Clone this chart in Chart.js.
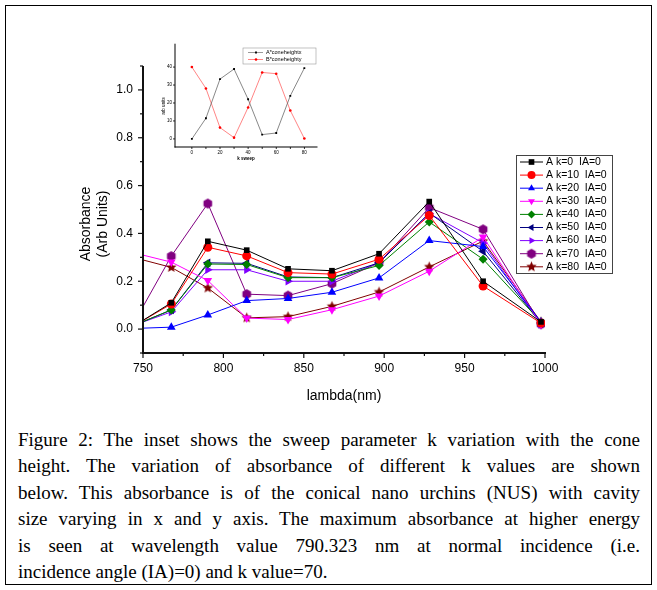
<!DOCTYPE html>
<html>
<head>
<meta charset="utf-8">
<title>Absorbance vs lambda</title>
<script src="https://cdn.jsdelivr.net/npm/chart.js@4.4.0/dist/chart.umd.min.js"></script>
<style>
  html, body { margin: 0; padding: 0; background: #fff; }
  #page { position: relative; width: 657px; height: 590px; overflow: hidden; }
  #frame { position: absolute; left: 5px; top: 5px; width: 645px; height: 578px; border: 1px solid #000; }
  #mainWrap { position: absolute; left: 0; top: 0; width: 657px; height: 410px; }
  #insetWrap { position: absolute; left: 145px; top: 38px; width: 180px; height: 125px; }
  #caption { position: absolute; left: 18px; top: 427px; width: 622px;
    font-family: "Liberation Serif", "Times New Roman", serif; font-size: 19px; line-height: 26.4px; color: #000; }
  #caption div { text-align: justify; text-align-last: justify; white-space: nowrap; }
  #caption div.last { text-align-last: left; }
</style>
</head>
<body>
<div id="page">
  <div id="frame"></div>
  <div id="mainWrap"><canvas id="main-chart" width="657" height="410"></canvas></div>
  <div id="insetWrap"><canvas id="inset-chart" width="180" height="125"></canvas></div>
  <div id="caption">
    <div>Figure 2: The inset shows the sweep parameter k variation with the cone</div>
    <div>height. The variation of absorbance of different k values are shown</div>
    <div>below. This absorbance is of the conical nano urchins (NUS) with cavity</div>
    <div>size varying in x and y axis. The maximum absorbance at higher energy</div>
    <div>is seen at wavelength value 790.323 nm at normal incidence (i.e.</div>
    <div class="last">incidence angle (IA)=0) and k value=70.</div>
  </div>
</div>
<script>
Chart.defaults.font.family = '"Liberation Sans", Arial, sans-serif';
Chart.defaults.color = '#000';
Chart.defaults.borderColor = '#000';

// wavelengths (nm) of the sweep points
var lambda = [746.0, 767.6, 790.3, 814.5, 840.2, 867.5, 896.8, 928.0, 961.5, 997.5];

// absorbance for each k (IA=0)
var absK0  = [0.020, 0.110, 0.367, 0.330, 0.252, 0.244, 0.315, 0.533, 0.200, 0.030];
var absK10 = [0.020, 0.105, 0.342, 0.306, 0.236, 0.230, 0.292, 0.475, 0.180, 0.025];
var absK20 = [0.003, 0.008, 0.059, 0.119, 0.128, 0.154, 0.214, 0.370, 0.345, 0.030];
var absK30 = [0.316, 0.280, 0.203, 0.046, 0.040, 0.081, 0.138, 0.242, 0.385, 0.020];
var absK40 = [0.020, 0.080, 0.272, 0.270, 0.215, 0.215, 0.266, 0.448, 0.292, 0.030];
var absK50 = [0.020, 0.080, 0.277, 0.275, 0.218, 0.215, 0.277, 0.485, 0.325, 0.025];
var absK60 = [0.020, 0.072, 0.248, 0.248, 0.200, 0.200, 0.278, 0.483, 0.360, 0.020];
var absK70 = [0.046, 0.305, 0.525, 0.146, 0.140, 0.190, 0.277, 0.508, 0.417, 0.020];
var absK80 = [0.296, 0.258, 0.172, 0.047, 0.052, 0.095, 0.155, 0.260, 0.368, 0.030];

var seriesLabels = ['A k=0  IA=0', 'A k=10  IA=0', 'A k=20  IA=0', 'A k=30  IA=0', 'A k=40  IA=0',
  'A k=50  IA=0', 'A k=60  IA=0', 'A k=70  IA=0', 'A k=80  IA=0'];

var xTicks = [750, 800, 850, 900, 950, 1000];
var xMinor = [775, 825, 875, 925, 975];
var yTicks = [0.0, 0.2, 0.4, 0.6, 0.8, 1.0];
var yMinor = [-0.1, 0.1, 0.3, 0.5, 0.7, 0.9, 1.1];

// inset: cone heights vs k sweep
var kSweep = [0, 10, 20, 30, 40, 50, 60, 70, 80];
var coneA = [0, 11.5, 33.3, 38.9, 22.1, 2.4, 3.3, 24.0, 39.4];
var coneB = [40, 28.1, 6.3, 0.7, 17.5, 37.0, 36.3, 15.8, 0.2];
var insetYTicks = [0, 10, 20, 30, 40];

function makeShape(color, n, r, inner) {
  var c = document.createElement('canvas');
  var s = Math.ceil(r * 2 + 2);
  c.width = s; c.height = s;
  var g = c.getContext('2d');
  g.beginPath();
  var count = inner ? n * 2 : n;
  for (var i = 0; i < count; i++) {
    var a = -Math.PI / 2 + i * 2 * Math.PI / count;
    var rr = (inner && i % 2) ? r * inner : r;
    g.lineTo(s / 2 + rr * Math.cos(a), s / 2 + rr * Math.sin(a));
  }
  g.closePath();
  g.fillStyle = color;
  g.fill();
  return c;
}

var styles = [
  { color: '#000000', point: 'rect', rot: 0, r: 4 },
  { color: '#ff0000', point: 'circle', rot: 0, r: 4.5 },
  { color: '#0000ff', point: 'triangle', rot: 0, r: 5 },
  { color: '#ff00ff', point: 'triangle', rot: 180, r: 5 },
  { color: '#008000', point: 'rectRot', rot: 0, r: 4.5 },
  { color: '#000080', point: 'triangle', rot: 270, r: 5 },
  { color: '#8000ff', point: 'triangle', rot: 90, r: 5 },
  { color: '#800080', point: makeShape('#800080', 6, 5), rot: 0, r: 5 },
  { color: '#800000', point: makeShape('#800000', 5, 5.5, 0.45), rot: 0, r: 5 }
];

var allSeries = [absK0, absK10, absK20, absK30, absK40, absK50, absK60, absK70, absK80];

var datasets = allSeries.map(function (vals, i) {
  var st = styles[i];
  return {
    label: seriesLabels[i],
    data: lambda.map(function (x, j) { return { x: x, y: vals[j] }; }),
    borderColor: st.color,
    backgroundColor: st.color,
    borderWidth: 1,
    pointStyle: st.point,
    pointRotation: st.rot,
    pointRadius: st.r,
    pointBorderWidth: 0,
    pointBackgroundColor: st.color,
    tension: 0
  };
});

// axis lines, ticks and minor ticks placed with the scales' pixel positions
function drawAxes(chart, w, majorLen, minorLen, xMaj, xMin, yMaj, yMin, color) {
  var ctx = chart.ctx, xs = chart.scales.x, ys = chart.scales.y;
  var left = xs.getPixelForValue(xs.min);
  var right = xs.getPixelForValue(xs.max);
  var top = ys.getPixelForValue(ys.max);
  var bottom = ys.getPixelForValue(ys.min);
  ctx.save();
  ctx.fillStyle = color;
  ctx.fillRect(left - w / 2, top, w, bottom - top + w / 2);
  ctx.fillRect(left - w / 2, bottom - w / 2, right - left + w, w);
  var tw = Math.max(0.8, w * 0.6);
  xMaj.concat(xMin).forEach(function (v, i) {
    var len = i < xMaj.length ? majorLen : minorLen;
    if (!len) return;
    var px = xs.getPixelForValue(v);
    ctx.fillRect(px - tw / 2, bottom, tw, len);
  });
  yMaj.concat(yMin).forEach(function (v, i) {
    var len = i < yMaj.length ? majorLen : minorLen;
    if (!len) return;
    var py = ys.getPixelForValue(v);
    ctx.fillRect(left - len, py - tw / 2, len, tw);
  });
  ctx.restore();
}

var mainExtras = {
  id: 'mainExtras',
  afterDraw: function (chart) {
    drawAxes(chart, 2, 5, 3, xTicks, xMinor, yTicks, yMinor, '#111');
    var ctx = chart.ctx;
    ctx.save();
    ctx.fillStyle = '#000';
    ctx.font = '14px "Liberation Sans", Arial, sans-serif';
    ctx.textAlign = 'center';
    ctx.textBaseline = 'middle';
    ctx.translate(86, 224);
    ctx.rotate(-Math.PI / 2);
    ctx.fillText('Absorbance', 0, 0);
    ctx.fillText('(Arb Units)', 0, 17);
    ctx.restore();

    // legend
    var box = { left: 516, top: 155, w: 96, h: 118 };
    ctx.save();
    ctx.fillStyle = '#fff';
    ctx.fillRect(box.left, box.top, box.w, box.h);
    ctx.strokeStyle = '#444';
    ctx.lineWidth = 1;
    ctx.strokeRect(box.left + 0.5, box.top + 0.5, box.w, box.h);
    ctx.font = '10.5px "Liberation Sans", Arial, sans-serif';
    ctx.textBaseline = 'middle';
    chart.data.datasets.forEach(function (ds, i) {
      var y = box.top + 7 + i * 13.1;
      ctx.strokeStyle = ds.borderColor;
      ctx.fillStyle = ds.borderColor;
      ctx.beginPath(); ctx.moveTo(box.left + 4, y); ctx.lineTo(box.left + 27, y); ctx.stroke();
      Chart.helpers.drawPoint(ctx, { pointStyle: ds.pointStyle, rotation: ds.pointRotation, radius: 4, borderWidth: 0 }, box.left + 15.5, y);
      ctx.fillStyle = '#000';
      ctx.fillText(ds.label, box.left + 30, y);
    });
    ctx.restore();
  }
};

new Chart(document.getElementById('main-chart'), {
  type: 'line',
  data: { datasets: datasets },
  options: {
    responsive: false,
    animation: false,
    layout: { padding: { left: 0, top: 66, right: 112, bottom: 0 } },
    plugins: { legend: { display: false }, tooltip: { enabled: false } },
    scales: {
      x: {
        type: 'linear', min: 750, max: 1000,
        afterBuildTicks: function (s) { s.ticks = xTicks.map(function (v) { return { value: v }; }); },
        afterFit: function (s) { s.height = 57; },
        ticks: { font: { size: 12 }, color: '#000', padding: 8, maxRotation: 0,
          callback: function (v) { return String(v); } },
        grid: { display: false, drawTicks: false },
        border: { display: false },
        title: { display: true, text: 'lambda(nm)', font: { size: 14 }, color: '#000', padding: { top: 0, bottom: 5 } }
      },
      y: {
        type: 'linear', min: -0.1, max: 1.1,
        afterBuildTicks: function (s) { s.ticks = yTicks.map(function (v) { return { value: v }; }); },
        afterFit: function (s) { s.width = 143; },
        ticks: { font: { size: 12 }, color: '#000', padding: 10, callback: function (v) { return v.toFixed(1); } },
        grid: { display: false, drawTicks: false },
        border: { display: false }
      }
    }
  },
  plugins: [mainExtras]
});

// inset
var insetExtras = {
  id: 'insetExtras',
  afterDraw: function (chart) {
    drawAxes(chart, 1, 2, 0, kSweep, [], insetYTicks, [], '#000');
    var ctx = chart.ctx;
    ctx.save();
    ctx.fillStyle = '#000';
    ctx.font = '4.5px "Liberation Sans", Arial, sans-serif';
    ctx.textAlign = 'center';
    ctx.textBaseline = 'middle';
    ctx.translate(19, 68);
    ctx.rotate(-Math.PI / 2);
    ctx.fillText('arb units', 0, 0);
    ctx.restore();

    var box = { left: 98, top: 10, w: 73, h: 16 };
    var items = [
      { text: 'A*coneheightx', color: '#555', pt: 'rect', fill: '#000' },
      { text: 'B*coneheighty', color: '#ff3030', pt: 'circle', fill: '#ff0000' }
    ];
    ctx.save();
    ctx.fillStyle = '#fff';
    ctx.fillRect(box.left, box.top, box.w, box.h);
    ctx.strokeStyle = '#999';
    ctx.lineWidth = 0.6;
    ctx.strokeRect(box.left, box.top, box.w, box.h);
    ctx.font = '5.5px "Liberation Sans", Arial, sans-serif';
    ctx.textBaseline = 'middle';
    items.forEach(function (it, i) {
      var y = box.top + 4.5 + i * 7;
      ctx.strokeStyle = it.color;
      ctx.lineWidth = 0.6;
      ctx.beginPath(); ctx.moveTo(box.left + 5, y); ctx.lineTo(box.left + 20, y); ctx.stroke();
      ctx.fillStyle = it.fill;
      Chart.helpers.drawPoint(ctx, { pointStyle: it.pt, rotation: 0, radius: 1.3, borderWidth: 0 }, box.left + 13, y);
      ctx.fillStyle = '#000';
      ctx.fillText(it.text, box.left + 23, y);
    });
    ctx.restore();
  }
};

new Chart(document.getElementById('inset-chart'), {
  type: 'line',
  data: {
    datasets: [
      {
        label: 'A*coneheightx',
        data: kSweep.map(function (k, i) { return { x: k, y: coneA[i] }; }),
        borderColor: '#555', backgroundColor: '#000', borderWidth: 0.7,
        pointStyle: 'rect', pointRadius: 1.3, pointBorderWidth: 0, pointBackgroundColor: '#000'
      },
      {
        label: 'B*coneheighty',
        data: kSweep.map(function (k, i) { return { x: k, y: coneB[i] }; }),
        borderColor: '#ff5050', backgroundColor: '#ff0000', borderWidth: 0.7,
        pointStyle: 'circle', pointRadius: 1.3, pointBorderWidth: 0, pointBackgroundColor: '#ff0000'
      }
    ]
  },
  options: {
    responsive: false,
    animation: false,
    layout: { padding: { left: 0, top: 5, right: 8, bottom: 0 } },
    plugins: { legend: { display: false }, tooltip: { enabled: false } },
    scales: {
      x: {
        type: 'linear', min: -12, max: 89,
        afterBuildTicks: function (s) { s.ticks = kSweep.map(function (v) { return { value: v }; }); },
        afterFit: function (s) { s.height = 16; },
        ticks: { font: { size: 4.5 }, color: '#000', padding: 3, maxRotation: 0, autoSkip: false,
          callback: function (v) { return v % 20 === 0 ? String(v) : ''; } },
        grid: { display: false, drawTicks: false },
        border: { display: false },
        title: { display: true, text: 'k sweep', font: { size: 4.5, weight: 'bold' }, color: '#000', padding: { top: 0, bottom: 2 } }
      },
      y: {
        type: 'linear', min: -4.5, max: 53,
        afterBuildTicks: function (s) { s.ticks = insetYTicks.map(function (v) { return { value: v }; }); },
        afterFit: function (s) { s.width = 30; },
        ticks: { font: { size: 4.5 }, color: '#000', padding: 3 },
        grid: { display: false, drawTicks: false },
        border: { display: false }
      }
    }
  },
  plugins: [insetExtras]
});
</script>
</body>
</html>
